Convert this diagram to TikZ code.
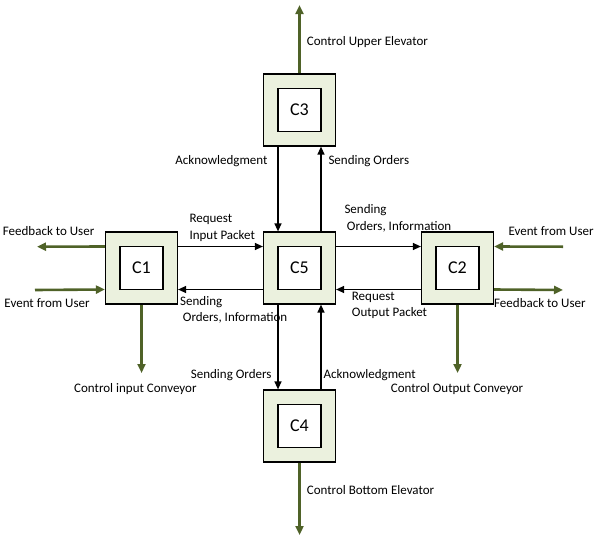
\documentclass[tikz,border=0pt]{standalone}
\usepackage{fontspec}
\setmainfont{Carlito}
\usepackage{tikz}
\usetikzlibrary{arrows.meta, positioning, calc}
\definecolor{ctrlgreen}{HTML}{4F6228}
\definecolor{boxfill}{HTML}{EBF1DE}

\begin{document}
\begin{tikzpicture}[x=1pt, y=-1pt,
    outer/.style={rectangle, draw=black, line width=1.2pt, fill=boxfill, minimum size=72pt, inner sep=0pt},
    core/.style={rectangle, draw=black, line width=1.2pt, fill=white, minimum size=43pt, inner sep=0pt, font=\fontsize{18}{20}\selectfont},
    arrow/.style={-{Triangle[length=8pt, width=7pt]}, line width=1.3pt, color=black},
    ctrl/.style={-{Triangle[length=9pt, width=8pt]}, line width=2.6pt, color=ctrlgreen},
    lbl/.style={inner sep=0pt, anchor=base west, align=left, font=\fontsize{13}{16.6}\selectfont},
    lblr/.style={lbl, anchor=base east, align=right}
]
\useasboundingbox (0,0) rectangle (595,536);

% Controllers
\node[outer] (c1) at (141.5,268) {};
\node[core] (c1i) at (c1) {C1};
\node[outer] (c5) at (299.5,268) {};
\node[core] (c5i) at (c5) {C5};
\node[outer] (c2) at (457.5,268) {};
\node[core] (c2i) at (c2) {C2};
\node[outer] (c3) at (299.5,110) {};
\node[core] (c3i) at (c3) {C3};
\node[outer] (c4) at (299.5,426) {};
\node[core] (c4i) at (c4) {C4};

% Free ends
\coordinate (fb1) at (37,246.7);
\coordinate (ev1) at (35,290);
\coordinate (cv1) at (141.5,373);
\coordinate (ev2) at (563,246.7);
\coordinate (fb2) at (563,290);
\coordinate (cv2) at (457.5,373);
\coordinate (up3) at (299.5,5);
\coordinate (dn4) at (299.5,535);

% Messages
\draw[arrow] ([yshift=21.5pt]c1.east) -- ([yshift=21.5pt]c5.west);
\draw[arrow] ([yshift=-21.5pt]c5.west) -- ([yshift=-21.5pt]c1.east);
\draw[arrow] ([yshift=21.5pt]c5.east) -- ([yshift=21.5pt]c2.west);
\draw[arrow] ([yshift=-21.5pt]c2.west) -- ([yshift=-21.5pt]c5.east);
\draw[arrow] ([xshift=-21.5pt]c3.south) -- ([xshift=-21.5pt]c5.north);
\draw[arrow] ([xshift=21.5pt]c5.north) -- ([xshift=21.5pt]c3.south);
\draw[arrow] ([xshift=-21.5pt]c5.south) -- ([xshift=-21.5pt]c4.north);
\draw[arrow] ([xshift=21.5pt]c4.north) -- ([xshift=21.5pt]c5.south);

% Devices and user
\draw[ctrl] ([yshift=21.5pt]c1.west) -- (fb1);
\draw[ctrl] (ev1) -- ([yshift=-21.5pt]c1.west);
\draw[ctrl] (c1.south) -- (cv1);
\draw[ctrl] (ev2) -- ([yshift=21.5pt]c2.east);
\draw[ctrl] ([yshift=-21.5pt]c2.east) -- (fb2);
\draw[ctrl] (c2.south) -- (cv2);
\draw[ctrl] (c3.north) -- (up3);
\draw[ctrl] (c4.south) -- (dn4);

% Labels (two-line ones sit on their last line)
\node[lbl] at (306.7,45.5) {Control Upper Elevator};
\node[lblr] at (267.7,164) {Acknowledgment};
\node[lbl] at (328.3,164) {Sending Orders};
\node[lbl] at (2.7,235.7) {Feedback to User};
\node[lbl] at (4.3,307.7) {Event from User};
\node[lbl] at (189.3,239.3) {Request\\Input Packet};
\node[lbl] at (180,321.7) {Sending\\\hspace*{2.7pt}Orders, Information};
\node[lbl] at (344.3,230) {Sending\\\hspace*{2.4pt}Orders, Information};
\node[lbl] at (351.7,316.7) {Request\\Output Packet};
\node[lbl] at (508.3,235.7) {Event from User};
\node[lbl] at (494,307.7) {Feedback to User};
\node[lbl] at (74,392.7) {Control input Conveyor};
\node[lbl] at (390.7,392.7) {Control Output Conveyor};
\node[lblr] at (271.7,378.3) {Sending Orders};
\node[lbl] at (323.3,378.3) {Acknowledgment};
\node[lbl] at (306.7,494.3) {Control Bottom Elevator};

\end{tikzpicture}
\end{document}
